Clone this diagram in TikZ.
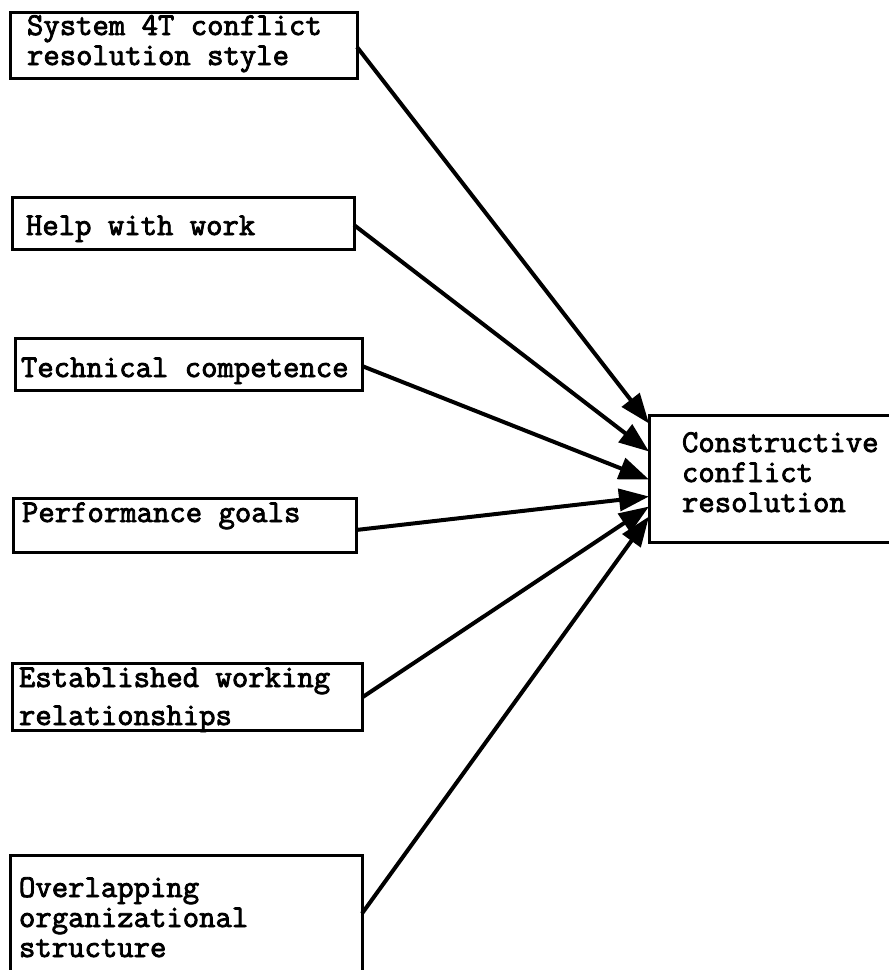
\documentclass[tikz,border=0pt]{standalone}
\usepackage{fontspec}
\usetikzlibrary{arrows.meta}
\newfontfamily\typewriter{Latin Modern Mono}[FakeBold=2.6]
\begin{document}
\begin{tikzpicture}[x=1pt, y=-1pt,
  box/.style={draw, line width=3pt, rectangle, inner sep=0pt, outer sep=0pt, anchor=north west},
  lbl/.style={inner sep=0pt, outer sep=0pt, anchor=base west, align=left,
    font=\typewriter\fontsize{31.8}{30}\selectfont},
  link/.style={line width=4pt, -{Triangle[length=30pt, width=22pt]}}]
  \useasboundingbox (0,0) rectangle (889,970);

  % factor boxes on the left
  \node[box, minimum width=347pt, minimum height=66pt] (b1) at (10,12) {};
  \node[box, minimum width=342pt, minimum height=52pt] (b2) at (12,197) {};
  \node[box, minimum width=347pt, minimum height=52pt] (b3) at (15,338) {};
  \node[box, minimum width=343pt, minimum height=54pt] (b4) at (13,498) {};
  \node[box, minimum width=350pt, minimum height=67pt] (b5) at (12,663) {};
  \node[box, minimum width=352pt, minimum height=117pt] (b6) at (10,855) {};

  % outcome box on the right
  \node[box, minimum width=246pt, minimum height=127pt] (t) at (649,415) {};

  % box texts (placed by the baseline of their last line)
  \node[lbl] (l1) at (27,65) {System 4T conflict\\resolution style};
  \node[lbl] (l2) at (26,235) {Help with work};
  \node[lbl] (l3) at (21,377) {Technical competence};
  \node[lbl] (l4) at (22,522) {Performance goals};
  \node[lbl] (l5) at (19,725) {Established working\\[8pt]relationships};
  \node[lbl] (l6) at (19,957) {Overlapping\\organizational\\structure};
  \node[lbl] (lt) at (682,512) {Constructive\\conflict\\resolution};

  % influences
  \draw[link] ([yshift=-2pt]b1.east) -- ([yshift=55pt]t.west);
  \draw[link] ([yshift=-2pt]b2.east) -- ([yshift=27pt]t.west);
  \draw[link] ([yshift=-2pt]b3.east) -- ([yshift=-1pt]t.west);
  \draw[link] ([yshift=-5pt]b4.east) -- ([yshift=-18pt]t.west);
  \draw[link] ([yshift=-1pt]b5.east) -- ([yshift=-28pt]t.west);
  \draw[link] (b6.east) -- ([yshift=-38pt]t.west);
\end{tikzpicture}
\end{document}
